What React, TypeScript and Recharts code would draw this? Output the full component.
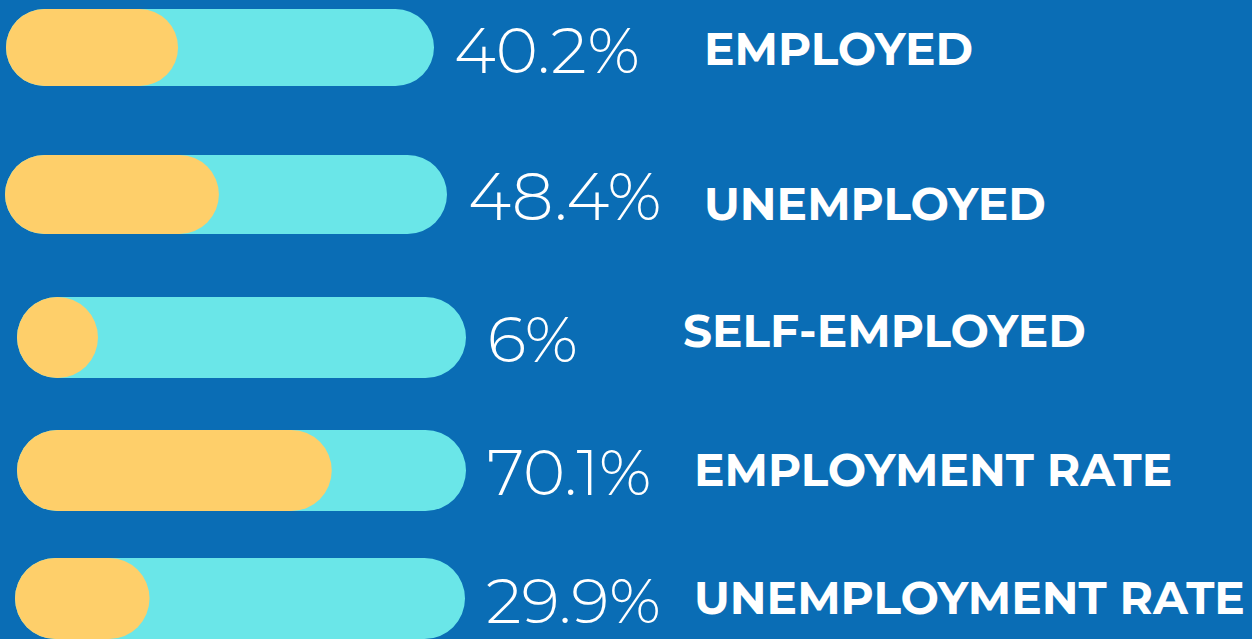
import { Bar, BarChart, XAxis, YAxis } from "recharts";

/* ── data ── */
const categories = ["EMPLOYED", "UNEMPLOYED", "SELF-EMPLOYED", "EMPLOYMENT RATE", "UNEMPLOYMENT RATE"];
const shares = [40.2, 48.4, 6, 70.1, 29.9];
const valueLabels = ["40.2%", "48.4%", "6%", "70.1%", "29.9%"];

/* ── theme ── */
const BG = "#0a6db5";
const TRACK = "#6ae6e8";
const FILL = "#fecf6a";
const W = 1252;
const H = 639;

// hand-placed infographic rows: track box + text anchors
const rowLayout = [
  { left: 6, top: 9, width: 428, height: 77, valueX: 454, valueY: 73, valueSize: 64, labelX: 704, labelY: 65 },
  { left: 5, top: 155, width: 442, height: 79, valueX: 468, valueY: 220, valueSize: 66, labelX: 704, labelY: 220 },
  { left: 17, top: 297, width: 449, height: 81, valueX: 487, valueY: 362, valueSize: 65, labelX: 683, labelY: 347 },
  { left: 17, top: 430, width: 449, height: 81, valueX: 487, valueY: 495, valueSize: 64, labelX: 694, labelY: 486 },
  { left: 15, top: 558, width: 450, height: 81, valueX: 486, valueY: 623, valueSize: 63, labelX: 694, labelY: 614 },
];

// pill that never gets narrower than a circle
function Pill(props: any) {
  const { x, y, width, height, fill } = props;
  if (width == null || height == null) return null;
  const w = Math.max(width, height);
  return <rect x={x} y={y} width={w} height={height} rx={height / 2} ry={height / 2} fill={fill} />;
}

function ProgressRow({ index }: { index: number }) {
  const box = rowLayout[index];
  const data = [{ name: categories[index], value: shares[index] }];
  return (
    <div style={{ position: "absolute", left: box.left, top: box.top }}>
      <BarChart
        width={box.width}
        height={box.height}
        data={data}
        layout="vertical"
        margin={{ top: 0, right: 0, bottom: 0, left: 0 }}
        barCategoryGap="0%"
      >
        <XAxis type="number" domain={[0, 100]} hide />
        <YAxis type="category" dataKey="name" hide />
        <Bar
          dataKey="value"
          fill={FILL}
          background={{ fill: TRACK, radius: box.height / 2 }}
          shape={Pill}
          isAnimationActive={false}
        />
      </BarChart>
    </div>
  );
}

export default function App() {
  return (
    <div
      style={{
        position: "absolute",
        left: 0,
        top: 0,
        width: W,
        height: H,
        background: BG,
        overflow: "hidden",
      }}
    >
      {categories.map((c, i) => (
        <ProgressRow key={c} index={i} />
      ))}
      <svg width={W} height={H} style={{ position: "absolute", left: 0, top: 0 }}>
        {categories.map((c, i) => (
          <g key={c}>
            <text
              x={rowLayout[i].valueX}
              y={rowLayout[i].valueY}
              fill="#fff"
              fontFamily="Montserrat, 'Open Sans', sans-serif"
              fontWeight={300}
              fontSize={rowLayout[i].valueSize}
            >
              {valueLabels[i]}
            </text>
            <text
              x={rowLayout[i].labelX}
              y={rowLayout[i].labelY}
              fill="#fff"
              fontFamily="Montserrat, 'Open Sans', sans-serif"
              fontWeight={700}
              fontSize={45.5}
            >
              {c}
            </text>
          </g>
        ))}
      </svg>
    </div>
  );
}
